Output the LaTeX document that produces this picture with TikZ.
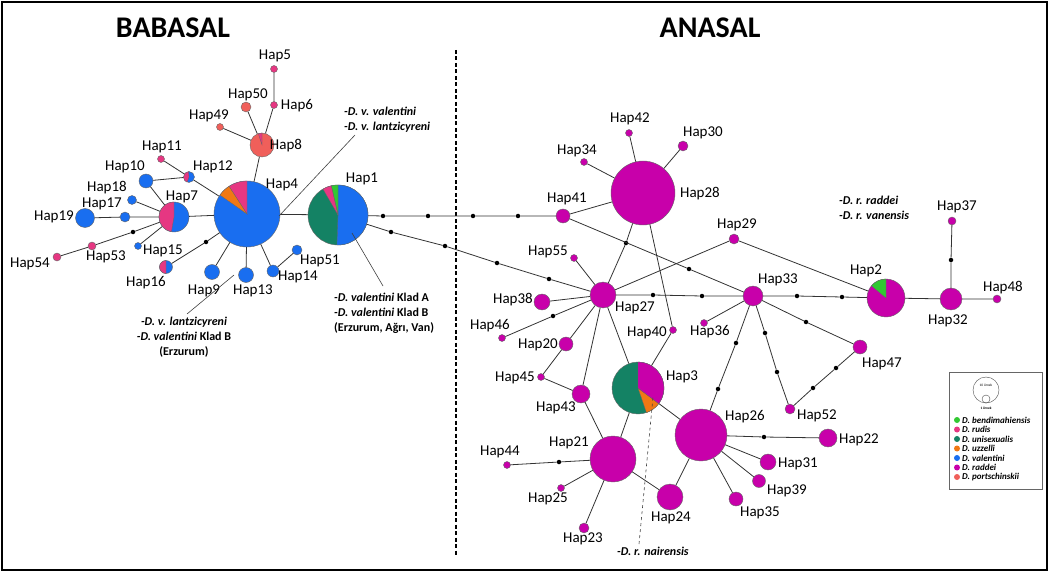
\documentclass[tikz,border=0pt]{standalone}
\usepackage{fontspec}
\setmainfont{Carlito}
\usetikzlibrary{
    calc,
    %positioning,
}

\definecolor{bendi}{RGB}{50,200,50}
\definecolor{rudis}{RGB}{230,55,130}
\definecolor{unisex}{RGB}{20,130,100}
\definecolor{uzzel}{RGB}{240,120,20}
\definecolor{valen}{RGB}{25,110,240}
\definecolor{raddei}{RGB}{200,0,170}
\definecolor{portsch}{RGB}{240,95,90}

% pie slice: node, radius, start, end, colour
\newcommand{\pieslice}[5]{%
    \fill[#5, draw=black!60, line width=0.3pt] (#1.center) -- ++(#3:#2pt)
        arc[start angle=#3, end angle=#4, radius=#2pt] -- cycle;}

\begin{document}
\begin{tikzpicture}[
        x=1pt, y=-1pt,
        hap/.style={circle, draw=black!60, line width=0.4pt, inner sep=0pt, minimum size=#1pt},
        mv/.style={circle, fill=black, inner sep=0pt, minimum size=4.5pt},
        lab/.style={font=\fontsize{15}{15}\selectfont, inner sep=0pt},
        anno/.style={font=\fontsize{12}{15}\selectfont\bfseries, inner sep=1pt},
        title/.style={font=\fontsize{30}{30}\selectfont\bfseries, inner sep=0pt},
        link/.style={draw=black!80, line width=0.8pt},
        pointer/.style={draw=black!75, line width=0.6pt},
        legdot/.style={circle, inner sep=0pt, minimum size=6pt},
        leg/.style={font=\fontsize{9}{9}\selectfont\bfseries\itshape, inner sep=0pt, anchor=west},
        ]
        \useasboundingbox (0,0) rectangle (1049,572);
        \draw[line width=2pt] (2,2) rectangle (1047,570);

        \node[title] (T1) at (173,28) {BABASAL};
        \node[title] (T2) at (710,28) {ANASAL};
        \draw[line width=2.5pt, dash pattern=on 4pt off 2.5pt] (456,50) -- (456,556);

        % babasal group
        \node[hap=66, fill=valen] (H4) at (247,214) {};
        \node[hap=60, fill=unisex] (H1) at (338,215) {};
        \node[hap=24, fill=portsch] (H8) at (262,145) {};
        \node[hap=7, fill=rudis] (H5) at (274,69) {};
        \node[hap=7, fill=rudis] (H6) at (274,105) {};
        \node[hap=10, fill=portsch] (H50) at (246,107) {};
        \node[hap=7, fill=portsch] (H49) at (220,127) {};
        \node[hap=11, fill=valen] (H12) at (189,177) {};
        \node[hap=7, fill=rudis] (H11) at (161,159) {};
        \node[hap=14, fill=valen] (H10) at (146,181) {};
        \node[hap=30, fill=valen] (H7) at (174,217) {};
        \node[hap=9, fill=valen] (H18) at (132,200) {};
        \node[hap=10, fill=valen] (H17) at (125,217) {};
        \node[hap=19, fill=valen] (H19) at (85,218) {};
        \node[hap=7, fill=valen] (H15) at (138,246) {};
        \node[hap=8, fill=rudis] (H53) at (92,246) {};
        \node[hap=8, fill=rudis] (H54) at (57,257) {};
        \node[hap=13, fill=valen] (H16) at (166,267) {};
        \node[hap=15, fill=valen] (H9) at (212,272) {};
        \node[hap=15, fill=valen] (H13) at (246,275) {};
        \node[hap=12, fill=valen] (H14) at (273,271) {};
        \node[hap=10, fill=valen] (H51) at (297,250) {};
        \node[mv] (m1) at (133,232) {};
        \node[mv] (m2) at (206,242) {};
        \node[mv] (m3) at (383,216) {};
        \node[mv] (m4) at (428,216) {};
        \node[mv] (m5) at (473,216) {};
        \node[mv] (m6) at (518,216) {};
        \node[mv] (m7) at (391,232) {};
        \node[mv] (m8) at (445,246) {};
        \node[mv] (m9) at (497,263) {};
        \node[mv] (m10) at (549,279) {};

        % anasal group
        \node[hap=14, fill=raddei] (H41) at (563,216) {};
        \node[hap=64, fill=raddei] (H28) at (643,193) {};
        \node[hap=7, fill=raddei] (H42) at (629,133) {};
        \node[hap=10, fill=raddei] (H30) at (683,146) {};
        \node[hap=7, fill=raddei] (H34) at (584,162) {};
        \node[hap=10, fill=raddei] (H29) at (734,239) {};
        \node[hap=7, fill=raddei] (H55) at (574,258) {};
        \node[hap=16, fill=raddei] (H38) at (542,302) {};
        \node[hap=26, fill=raddei] (H27) at (603,295) {};
        \node[hap=20, fill=raddei] (H33) at (753,296) {};
        \node[hap=7, fill=raddei] (H40) at (673,330) {};
        \node[hap=7, fill=raddei] (H46) at (502,338) {};
        \node[hap=14, fill=raddei] (H20) at (566,344) {};
        \node[hap=7, fill=raddei] (H45) at (541,377) {};
        \node[hap=18, fill=raddei] (H43) at (581,394) {};
        \node[hap=52, fill=unisex] (H3) at (638,388) {};
        \node[hap=46, fill=raddei] (H21) at (613,459) {};
        \node[hap=7, fill=raddei] (H44) at (507,465) {};
        \node[hap=7, fill=raddei] (H25) at (561,488) {};
        \node[hap=10, fill=raddei] (H23) at (584,528) {};
        \node[hap=26, fill=raddei] (H24) at (670,497) {};
        \node[hap=52, fill=raddei] (H26) at (701,435) {};
        \node[hap=18, fill=raddei] (H22) at (828,438) {};
        \node[hap=16, fill=raddei] (H31) at (768,462) {};
        \node[hap=13, fill=raddei] (H39) at (759,481) {};
        \node[hap=14, fill=raddei] (H35) at (736,499) {};
        \node[hap=7, fill=raddei] (H36) at (704,323) {};
        \node[hap=10, fill=raddei] (H52) at (790,409) {};
        \node[hap=14, fill=raddei] (H47) at (860,347) {};
        \node[hap=38, fill=raddei] (H2) at (886,298) {};
        \node[hap=22, fill=raddei] (H32) at (951,299) {};
        \node[hap=8, fill=raddei] (H37) at (952,221) {};
        \node[hap=8, fill=raddei] (H48) at (997,299) {};
        \node[mv] (m11) at (626,243) {};
        \node[mv] (m12) at (689,269) {};
        \node[mv] (m13) at (653,295) {};
        \node[mv] (m14) at (702,296) {};
        \node[mv] (m15) at (553,316) {};
        \node[mv] (m16) at (559,462) {};
        \node[mv] (m17) at (764,437) {};
        \node[mv] (m18) at (736,343) {};
        \node[mv] (m19) at (718,389) {};
        \node[mv] (m20) at (765,333) {};
        \node[mv] (m21) at (777,372) {};
        \node[mv] (m22) at (806,322) {};
        \node[mv] (m23) at (836,368) {};
        \node[mv] (m24) at (813,388) {};
        \node[mv] (m25) at (797,296) {};
        \node[mv] (m26) at (842,297) {};
        \node[mv] (m27) at (951,260) {};

        % pies
        \pieslice{H4}{33}{90}{123}{rudis}
        \pieslice{H4}{33}{123}{145}{uzzel}
        \pieslice{H1}{30}{-92}{90}{valen}
        \pieslice{H1}{30}{90}{103}{bendi}
        \pieslice{H1}{30}{103}{120}{rudis}
        \pieslice{H8}{12}{90}{108}{rudis}
        \pieslice{H7}{15}{90}{260}{rudis}
        \pieslice{H16}{6.5}{90}{270}{rudis}
        \pieslice{H12}{5.5}{95}{250}{rudis}
        \pieslice{H3}{26}{289}{323}{uzzel}
        \pieslice{H3}{26}{-37}{90}{raddei}
        \pieslice{H2}{19}{90}{140}{bendi}

        % links, babasal
        \draw[link] (H5) -- (H6) -- (H8) -- (H4);
        \draw[link] (H50) -- (H8);
        \draw[link] (H49) -- (H8);
        \draw[link] (H11) -- (H12);
        \draw[link] (H10) -- (H12) -- (H4);
        \draw[link] (H10) -- (H7);
        \draw[link] (H18) -- (H7);
        \draw[link] (H19) -- (H17) -- (H7) -- (H4);
        \draw[link] (H15) -- (H7);
        \draw[link] (H54) -- (H53) -- (m1) -- (H7);
        \draw[link] (H16) -- (m2) -- (H4);
        \draw[link] (H9) -- (H4);
        \draw[link] (H13) -- (H4);
        \draw[link] (H51) -- (H14) -- (H4);
        \draw[link] (H4) -- (H1);
        \draw[link] (H1) -- (m3) -- (m4) -- (m5) -- (m6) -- (H41);
        \draw[link] (H1) -- (m7) -- (m8) -- (m9) -- (m10) -- (H27);

        % links, anasal
        \draw[link] (H41) -- (H28);
        \draw[link] (H34) -- (H28);
        \draw[link] (H42) -- (H28);
        \draw[link] (H30) -- (H28);
        \draw[link] (H28) -- (m11) -- (H27);
        \draw[link] (H28) -- (H40) -- (H3);
        \draw[link] (H41) -- (m12) -- (H33);
        \draw[link] (H27) -- (m13) -- (m14) -- (H33);
        \draw[link] (H55) -- (H27);
        \draw[link] (H38) -- (H27);
        \draw[link] (H46) -- (m15) -- (H27);
        \draw[link] (H20) -- (H27);
        \draw[link] (H43) -- (H27);
        \draw[link] (H27) -- (H3);
        \draw[link] (H27) -- (H29) -- (H2);
        \draw[link] (H20) -- (H45) -- (H43) -- (H21);
        \draw[link] (H3) -- (H21);
        \draw[link] (H3) -- (H26);
        \draw[link] (H44) -- (m16) -- (H21);
        \draw[link] (H25) -- (H21);
        \draw[link] (H23) -- (H21);
        \draw[link] (H21) -- (H24) -- (H26);
        \draw[link] (H26) -- (m17) -- (H22);
        \draw[link] (H26) -- (H31);
        \draw[link] (H26) -- (H39);
        \draw[link] (H26) -- (H35);
        \draw[link] (H33) -- (m18) -- (m19) -- (H26);
        \draw[link] (H33) -- (H36);
        \draw[link] (H33) -- (m20) -- (m21) -- (H52);
        \draw[link] (H33) -- (m22) -- (H47) -- (m23) -- (m24) -- (H52);
        \draw[link] (H33) -- (m25) -- (m26) -- (H2) -- (H32) -- (H48);
        \draw[link] (H32) -- (m27) -- (H37);

        % labels
        \node[lab] (L4) at (282,185) {Hap4};
        \node[lab] (L1) at (362,179) {Hap1};
        \node[lab] (L8) at (286,146) {Hap8};
        \node[lab] (L5) at (275,56) {Hap5};
        \node[lab] (L6) at (297,106) {Hap6};
        \node[lab] (L50) at (248,95) {Hap50};
        \node[lab] (L49) at (209,116) {Hap49};
        \node[lab] (L12) at (213,167) {Hap12};
        \node[lab] (L11) at (162,147) {Hap11};
        \node[lab] (L10) at (125,167) {Hap10};
        \node[lab] (L7) at (182,197) {Hap7};
        \node[lab] (L18) at (107,188) {Hap18};
        \node[lab] (L17) at (102,204) {Hap17};
        \node[lab] (L19) at (54,217) {Hap19};
        \node[lab] (L15) at (163,251) {Hap15};
        \node[lab] (L53) at (106,257) {Hap53};
        \node[lab] (L54) at (30,264) {Hap54};
        \node[lab] (L16) at (146,283) {Hap16};
        \node[lab] (L9) at (204,291) {Hap9};
        \node[lab] (L13) at (253,291) {Hap13};
        \node[lab] (L14) at (298,277) {Hap14};
        \node[lab] (L51) at (320,261) {Hap51};
        \node[lab] (L28) at (700,194) {Hap28};
        \node[lab] (L42) at (630,119) {Hap42};
        \node[lab] (L30) at (703,133) {Hap30};
        \node[lab] (L34) at (577,151) {Hap34};
        \node[lab] (L41) at (567,199) {Hap41};
        \node[lab] (L29) at (737,225) {Hap29};
        \node[lab] (L55) at (548,252) {Hap55};
        \node[lab] (L38) at (513,300) {Hap38};
        \node[lab] (L27) at (635,308) {Hap27};
        \node[lab] (L33) at (778,280) {Hap33};
        \node[lab] (L40) at (647,333) {Hap40};
        \node[lab] (L46) at (490,326) {Hap46};
        \node[lab] (L20) at (538,345) {Hap20};
        \node[lab] (L45) at (515,378) {Hap45};
        \node[lab] (L43) at (556,408) {Hap43};
        \node[lab] (L3) at (682,377) {Hap3};
        \node[lab] (L21) at (569,443) {Hap21};
        \node[lab] (L44) at (500,452) {Hap44};
        \node[lab] (L25) at (548,499) {Hap25};
        \node[lab] (L23) at (583,539) {Hap23};
        \node[lab] (L24) at (671,518) {Hap24};
        \node[lab] (L26) at (745,417) {Hap26};
        \node[lab] (L22) at (859,440) {Hap22};
        \node[lab] (L31) at (798,464) {Hap31};
        \node[lab] (L39) at (787,491) {Hap39};
        \node[lab] (L35) at (760,513) {Hap35};
        \node[lab] (L36) at (710,332) {Hap36};
        \node[lab] (L52) at (817,416) {Hap52};
        \node[lab] (L47) at (882,364) {Hap47};
        \node[lab] (L2) at (866,271) {Hap2};
        \node[lab] (L32) at (948,321) {Hap32};
        \node[lab] (L37) at (957,207) {Hap37};
        \node[lab] (L48) at (1003,288) {Hap48};

        % subspecies notes
        \node[anno, anchor=west, align=left] (A1) at (343,120) {\textit{-D. v. valentini}\\\textit{-D. v. lantzicyreni}};
        \node[anno, anchor=west, align=left] (A2) at (333,313) {\textit{-D. valentini} Klad A\\\textit{-D. valentini} Klad B\\(Erzurum, Ağrı, Van)};
        \node[anno, align=center] (A3) at (184,337) {\textit{-D. v. lantzicyreni}\\\textit{-D. valentini} Klad B\\(Erzurum)};
        \node[anno, anchor=west, align=left] (A4) at (838,208) {\textit{-D. r. raddei}\\\textit{-D. r. vanensis}};
        \node[anno] (A5) at (653,551) {\textit{-D. r. nairensis}};
        \coordinate (a1) at (355,135);
        \coordinate (c4) at (279,216);
        \coordinate (c1) at (352,233);
        \coordinate (a2) at (383,286);
        \coordinate (a3) at (187,314);
        \coordinate (c13) at (234,275);
        \coordinate (a5) at (639,544);
        \coordinate (c3) at (653,397);
        \draw[pointer] (a1) -- (c4);
        \draw[pointer] (c1) -- (a2);
        \draw[pointer] (a3) -- (c13);
        \draw[pointer, dashed] (a5) -- (c3);

        % legend
        \draw[black!60, line width=0.5pt] (949,372) rectangle (1042,489);
        \draw[black!70, line width=0.4pt] (986,390) circle[radius=13pt];
        \draw[black!70, line width=0.4pt] (986,399) circle[radius=4pt];
        \node[font=\fontsize{3.5}{3.5}\selectfont, inner sep=0pt] (K1) at (986,385) {10 örnek};
        \node[font=\fontsize{3.5}{3.5}\selectfont\bfseries, inner sep=0pt] (K2) at (986,408) {1 örnek};
        \node[legdot, fill=bendi] (D1) at (957,420) {};
        \node[leg] (E1) at (962,420) {D. bendimahiensis};
        \node[legdot, fill=rudis] (D2) at (957,429.5) {};
        \node[leg] (E2) at (962,429.5) {D. rudis};
        \node[legdot, fill=unisex] (D3) at (957,439) {};
        \node[leg] (E3) at (962,439) {D. unisexualis};
        \node[legdot, fill=uzzel] (D4) at (957,448.5) {};
        \node[leg] (E4) at (962,448.5) {D. uzzelli};
        \node[legdot, fill=valen] (D5) at (957,458) {};
        \node[leg] (E5) at (962,458) {D. valentini};
        \node[legdot, fill=raddei] (D6) at (957,467.5) {};
        \node[leg] (E6) at (962,467.5) {D. raddei};
        \node[legdot, fill=portsch] (D7) at (957,477) {};
        \node[leg] (E7) at (962,477) {D. portschinskii};
    \end{tikzpicture}
\end{document}
